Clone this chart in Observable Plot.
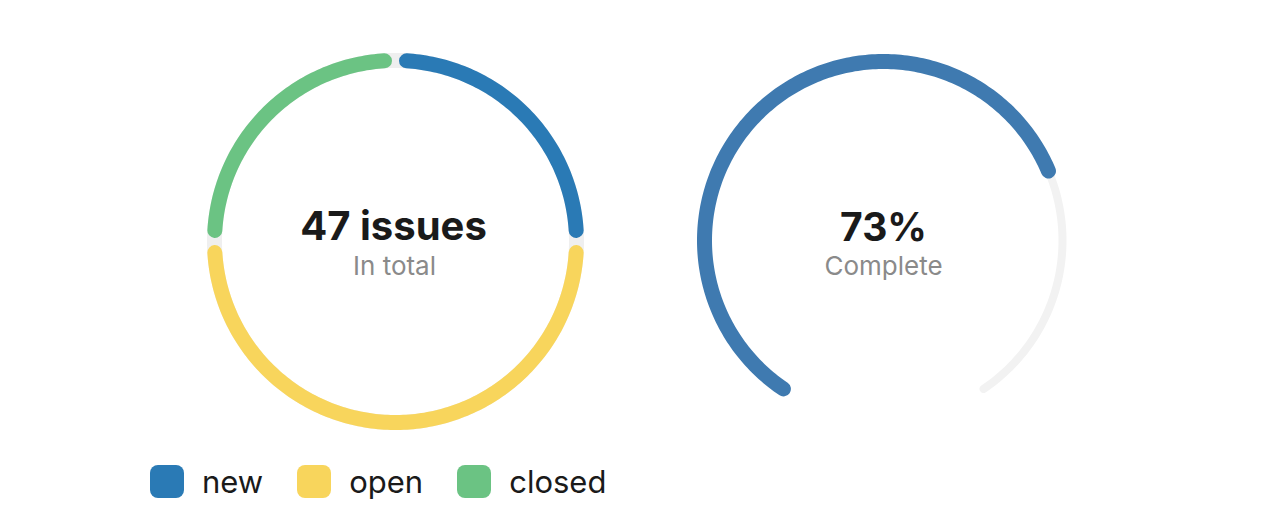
<!DOCTYPE html>
<html>
<head>
<meta charset="utf-8">
<script src="https://cdn.jsdelivr.net/npm/d3@7"></script>
<script src="https://cdn.jsdelivr.net/npm/@observablehq/plot@0.6"></script>
<style>
  html, body { margin: 0; padding: 0; background: #ffffff; }
  body { width: 1280px; height: 531px; overflow: hidden; font-family: Inter, "Noto Sans", sans-serif; }
  #legend { display: flex; align-items: center; margin-left: 150px; padding-top: 20px; }
  .item { display: flex; align-items: center; margin-right: 34px; }
  .sw { width: 34px; height: 33px; border-radius: 8px; margin-right: 18px; }
  .lab { font-size: 31px; color: #1a1a1a; line-height: 33px; }
</style>
</head>
<body>
<div id="chart"></div>
<div id="legend"></div>
<script>
// ---- data ----
const categories = ["new", "open", "closed"];
const counts = [12, 24, 12];
const colors = ["#2a7ab5", "#f8d55c", "#6bc383"];
const totalLabel = "47 issues";
const totalSub = "In total";
const progress = 0.73;
const progressLabel = "73%";
const progressSub = "Complete";

// ---- layout ----
const W = 1280, H = 445;
const ring = {cx: 395, cy: 241, r: 181, w: 15};
const gauge = {cx: 883, cy: 240, r: 179, w: 15, span: 292};
const padDeg = 3.5;

function arcPoints(c, a0, a1, id, extra) {
  const pts = [];
  const n = Math.max(2, Math.ceil(Math.abs(a1 - a0)));
  for (let i = 0; i <= n; i++) {
    const a = (a0 + (a1 - a0) * i / n) * Math.PI / 180;
    pts.push({x: c.cx + c.r * Math.sin(a), y: c.cy - c.r * Math.cos(a), id, ...extra});
  }
  return pts;
}

const total = d3.sum(counts);
let acc = 0;
const segs = [];
categories.forEach((cat, i) => {
  const a0 = acc / total * 360, a1 = (acc + counts[i]) / total * 360;
  acc += counts[i];
  segs.push(...arcPoints(ring, a0 + padDeg, a1 - padDeg, cat, {cat}));
});
const ringBg = arcPoints(ring, 0, 360, "bg", {});
const half = gauge.span / 2;
const track = arcPoints(gauge, -half, half, "track", {});
const done = arcPoints(gauge, -half, -half + gauge.span * progress, "done", {});

const texts = [
  {x: ring.cx - 2, y: 239, t: totalLabel, size: 40, weight: 700, fill: "#1a1a1a"},
  {x: ring.cx - 1, y: 274, t: totalSub, size: 26, weight: 400, fill: "#8a8a8a"},
  {x: gauge.cx, y: 240, t: progressLabel, size: 39, weight: 700, fill: "#1a1a1a"},
  {x: gauge.cx, y: 274, t: progressSub, size: 26, weight: 400, fill: "#8a8a8a"}
];

const chart = Plot.plot({
  width: W, height: H,
  margin: 0,
  x: {domain: [0, W], range: [0, W], axis: null},
  y: {domain: [0, H], range: [0, H], axis: null},
  color: {domain: categories, range: colors},
  style: {fontFamily: "Inter, 'Noto Sans', sans-serif", background: "#ffffff"},
  marks: [
    Plot.line(ringBg, {x: "x", y: "y", stroke: "#efefef", strokeWidth: ring.w}),
    Plot.line(segs, {x: "x", y: "y", z: "id", stroke: "cat", strokeWidth: ring.w, strokeLinecap: "round"}),
    Plot.line(track, {x: "x", y: "y", stroke: "#f2f2f2", strokeWidth: 8}),
    Plot.line(done, {x: "x", y: "y", stroke: "#3f7ab0", strokeWidth: gauge.w, strokeLinecap: "round"}),
    ...texts.map(d => Plot.text([d], {x: "x", y: "y", text: "t", fontSize: d.size, fontWeight: d.weight, fill: d.fill, textAnchor: "middle", lineAnchor: "bottom"}))
  ]
});
document.getElementById("chart").appendChild(chart);

const legend = document.getElementById("legend");
categories.forEach((cat, i) => {
  const it = document.createElement("div"); it.className = "item";
  const sw = document.createElement("div"); sw.className = "sw"; sw.style.background = colors[i];
  const lab = document.createElement("span"); lab.className = "lab"; lab.textContent = cat;
  it.appendChild(sw); it.appendChild(lab); legend.appendChild(it);
});
</script>
</body>
</html>
